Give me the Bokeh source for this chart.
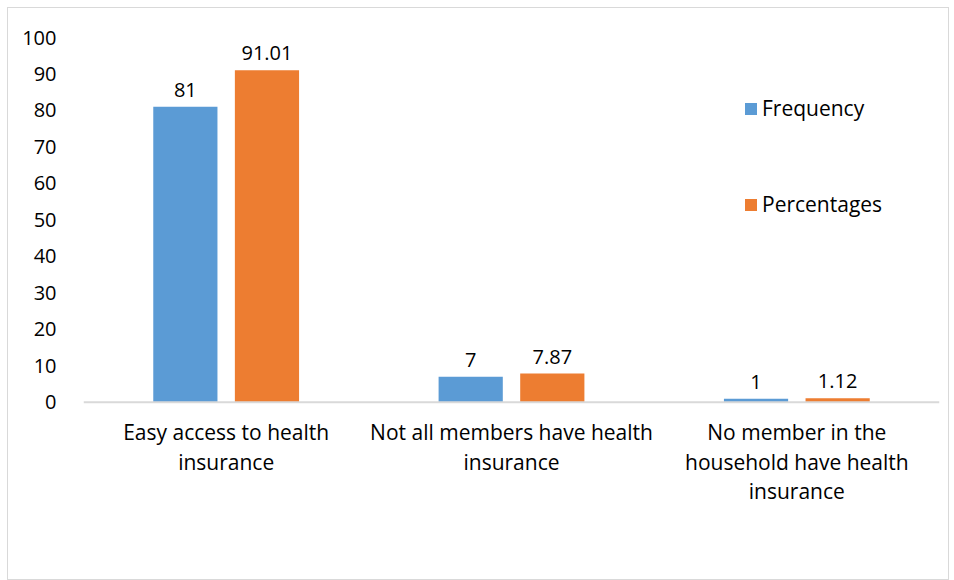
from bokeh.plotting import figure
from bokeh.models import FactorRange, ColumnDataSource, Legend, LegendItem, FixedTicker, Span
from bokeh.transform import dodge
from bokeh.core.properties import value
from bokeh.embed import file_html
from bokeh.resources import INLINE

categories = ["Easy access to health insurance",
              "Not all members have health insurance",
              "No member in the household have health insurance"]
tick_labels = ["Easy access to health\ninsurance",
               "Not all members have health\ninsurance",
               "No member in the\nhousehold have health\ninsurance"]
frequency = [81, 7, 1]
percentages = [91.01, 7.87, 1.12]
freq_labels = ["81", "7", "1"]
pct_labels = ["91.01", "7.87", "1.12"]
y_ticks = [0, 10, 20, 30, 40, 50, 60, 70, 80, 90, 100]

FONT = "Open Sans"
FS = "20px"
BLUE = "#5B9BD5"
ORANGE = "#ED7D31"

src = ColumnDataSource(dict(cat=categories, freq=frequency, pct=percentages,
                            fl=freq_labels, pl=pct_labels, tl=tick_labels,
                            zero=[0] * len(categories)))

p = figure(x_range=FactorRange(*categories, range_padding=0), y_range=(-45, 100),
           width=942, height=573, output_backend="svg", toolbar_location=None,
           x_axis_location=None,
           min_border_left=75, min_border_top=29, min_border_right=11, min_border_bottom=15)
p.margin = (7, 0, 0, 7)
p.styles = {"border": "1px solid #d9d9d9"}
p.outline_line_color = None
p.xgrid.grid_line_color = None
p.ygrid.grid_line_color = None
p.background_fill_color = "white"
p.border_fill_color = "white"

# category baseline
p.add_layout(Span(location=0, dimension="width", line_color="#d9d9d9", line_width=2))

off = 0.143
w = 0.225
r1 = p.vbar(x=dodge("cat", -off, range=p.x_range), top="freq", width=w, source=src,
            fill_color=BLUE, line_color=None)
r2 = p.vbar(x=dodge("cat", off, range=p.x_range), top="pct", width=w, source=src,
            fill_color=ORANGE, line_color=None)

for col, lab, o in (("freq", "fl", -off), ("pct", "pl", off)):
    p.text(x=dodge("cat", o, range=p.x_range), y=col, text=lab, source=src,
           text_font=value(FONT), text_font_size=FS, text_color="#000000",
           text_align="center", text_baseline="alphabetic", y_offset=-17)

# category labels below the baseline
p.text(x="cat", y="zero", text="tl", source=src,
       text_font=value(FONT), text_font_size="21px", text_color="#000000",
       text_align="center", text_baseline="top", text_line_height=1.05,
       y_offset=16)

# y axis
p.yaxis.ticker = FixedTicker(ticks=y_ticks)
p.yaxis.axis_line_color = None
p.yaxis.major_tick_line_color = None
p.yaxis.minor_tick_line_color = None
p.yaxis.major_label_standoff = 21
p.yaxis.major_label_text_font = FONT
p.yaxis.major_label_text_font_size = FS
p.yaxis.major_label_text_color = "#000000"

legend = Legend(items=[LegendItem(label="Frequency", renderers=[r1]),
                       LegendItem(label="Percentages", renderers=[r2])],
                location=(660, 348), orientation="vertical",
                border_line_color=None, background_fill_alpha=0,
                padding=0, margin=0, spacing=68,
                glyph_width=15, glyph_height=15, label_standoff=4,
                label_text_font=FONT, label_text_font_size="21px",
                label_text_color="#000000")
p.add_layout(legend)

open("out.html", "w").write(file_html(p, INLINE))
